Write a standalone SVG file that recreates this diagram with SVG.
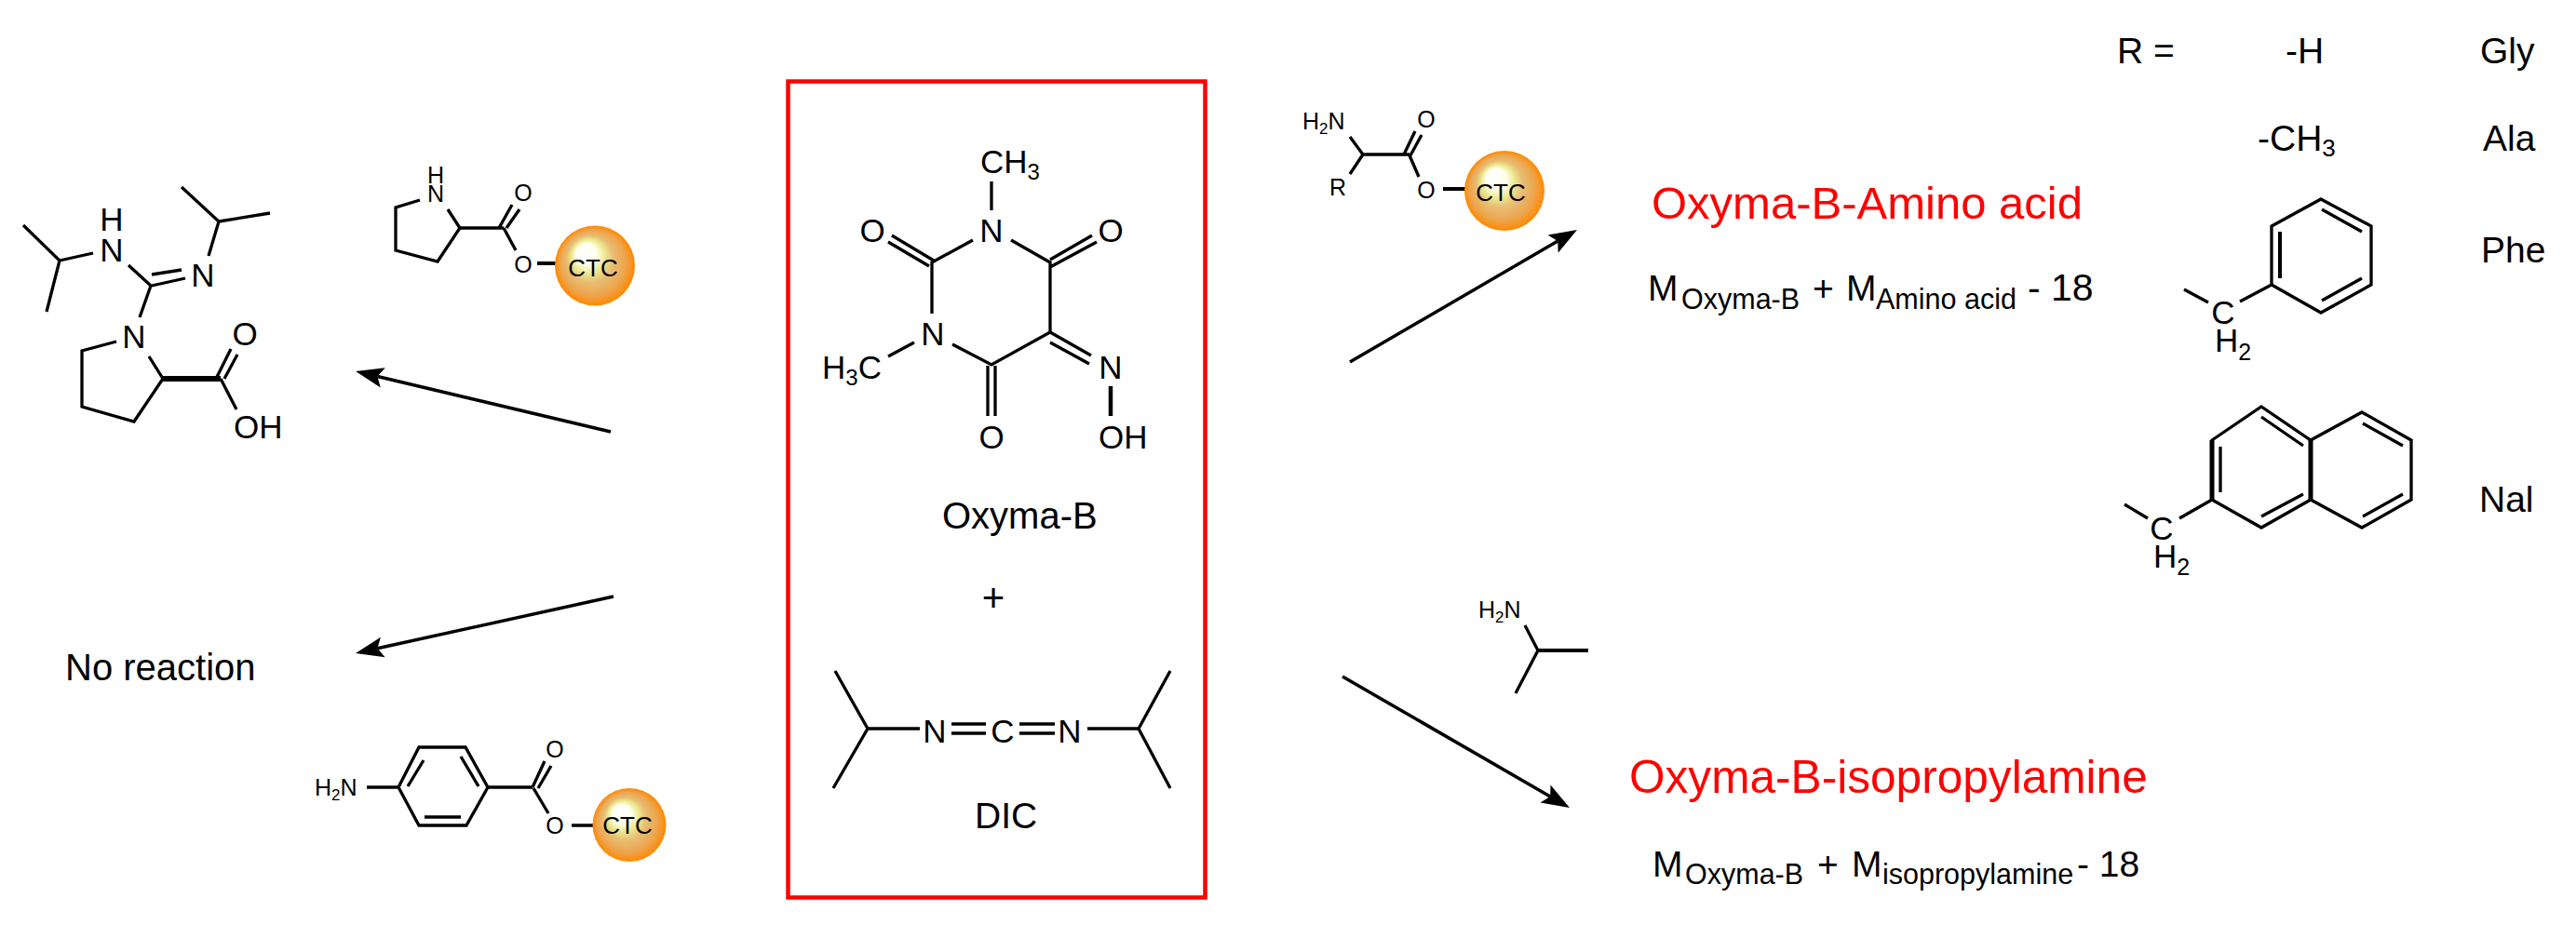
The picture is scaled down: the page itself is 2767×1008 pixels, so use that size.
<svg xmlns="http://www.w3.org/2000/svg" width="2767" height="1008" viewBox="0 0 2767 1008">
<defs>
<radialGradient id="beadFill" cx="0.5" cy="0.5" r="0.5" fx="0.36" fy="0.3">
<stop offset="0" stop-color="#ffffff"/>
<stop offset="0.25" stop-color="#fffff0"/>
<stop offset="0.42" stop-color="#ece98f"/>
<stop offset="0.58" stop-color="#e8bd74"/>
<stop offset="0.82" stop-color="#eda44c"/>
<stop offset="1" stop-color="#ff8800"/>
</radialGradient>
<marker id="head" markerUnits="userSpaceOnUse" viewBox="0 -12 32 24" refX="6" refY="0" markerWidth="32" markerHeight="24" orient="auto">
<path d="M0,-11 L30,0 L0,11 L6,0 Z" fill="#000"/>
</marker>
</defs>
<style>
text{font-family:"Liberation Sans",Arial,sans-serif;fill:#000}
.a{font-size:35px;text-anchor:middle}
.s{font-size:25px;text-anchor:middle}
.sl{font-size:25px}
.c{font-size:26px;text-anchor:middle}
.l{font-size:39px}
.m{font-size:30.5px}
.r{font-size:49px;fill:#ff0000}
.b{stroke:#000;stroke-width:3.3;fill:none;stroke-linejoin:miter;stroke-linecap:butt}
.t{stroke:#000;stroke-width:4.5;fill:none;stroke-linejoin:miter}
.bead{fill:url(#beadFill)}
.arrow{stroke:#000;stroke-width:3.5;fill:none;marker-end:url(#head)}
</style>
<rect width="2767" height="1008" fill="#fff"/>

<g id="product-guanidine">
<path class="b" d="M25,242L64,280L50,335M64,280L100,272M138,285L162,307L150,341M163,295L195,290M163,307L199,299M224,275L235,238L195,201M235,238L290,229M125,367L88,377V437L144,453L175,407L160,383M233,405L248,375M241,407L255,381M237,407L254,440"/>
<path class="b" d="M175,407H237" style="stroke-width:6"/>
<text class="a" x="120" y="248">H</text>
<text class="a" x="120" y="281">N</text>
<text class="a" x="218" y="308">N</text>
<text class="a" x="144" y="374">N</text>
<text class="a" x="263" y="371">O</text>
<text class="a" x="251" y="471" style="text-anchor:start">OH</text>
</g>

<g id="reagent-proline-ctc">
<path class="b" d="M451,215L425,223V269L470,281L494,245L481,225M494,245H541M536,245L550,220M544,245L558,225M541,245L554,269"/>
<path class="b" d="M577,283H598" style="stroke-width:4"/>
<text class="s" x="468" y="197">H</text>
<text class="s" x="468" y="217">N</text>
<text class="s" x="562" y="216">O</text>
<text class="s" x="562" y="293">O</text>
<circle class="bead" cx="639" cy="285.5" r="43"/>
<text class="c" x="637" y="297">CTC</text>
</g>

<g id="no-reaction">
<text class="l" x="70" y="731" style="font-size:40px">No reaction</text>
</g>

<g id="reagent-aminobenzoate-ctc">
<path class="b" d="M394,846H428M428,846L450,803H500L524,846L501,887H450ZM455,817L438,845M495,813L514,845M456,878H495M524,846H572M572,846L585,818M578,847L592,823M573,847L589,874M614,887H638"/>
<text class="sl" x="338" y="855">H<tspan font-size="17" dy="5">2</tspan><tspan dy="-5">N</tspan></text>
<text class="s" x="596" y="814">O</text>
<text class="s" x="596" y="896">O</text>
<circle class="bead" cx="676" cy="886.5" r="39.5"/>
<text class="c" x="674" y="896">CTC</text>
</g>

<g id="reagents-box">
<rect x="846.5" y="87.5" width="448" height="877" fill="none" stroke="#ff0000" stroke-width="4.5"/>
</g>

<g id="oxyma-b">
<path class="b" d="M1065,195V226M1045,258L1001,282V337M1086,258L1128,282V357L1065,392L1023,370M954,260L998,286M958,253L1003,280M1128,279L1173,253M1128,287L1178,260M1061,393V447M1069,393V447M1128,357L1172,382M1128,368L1170,391M954,383L982,368"/>
<path class="t" d="M1193,415V447"/>
<text class="a" x="1053" y="186" style="text-anchor:start">CH<tspan font-size="24" dy="7">3</tspan></text>
<text class="a" x="1065" y="260">N</text>
<text class="a" x="937" y="260">O</text>
<text class="a" x="1193" y="260">O</text>
<text class="a" x="1002" y="371">N</text>
<text class="a" x="883" y="407" style="text-anchor:start">H<tspan font-size="24" dy="7">3</tspan><tspan dy="-7">C</tspan></text>
<text class="a" x="1193" y="407">N</text>
<text class="a" x="1065" y="482">O</text>
<text class="a" x="1180" y="482" style="text-anchor:start">OH</text>
<text class="l" x="1012" y="568" style="font-size:40px">Oxyma-B</text>
</g>

<g id="plus">
<text class="l" x="1067" y="657" style="text-anchor:middle;font-size:42px">+</text>
</g>

<g id="dic">
<path class="b" d="M897,721L932,783L895,847M932,783H988M1168,783H1223L1257,721M1223,783L1257,847"/>
<path class="t" d="M1022,778H1059M1022,788H1059M1095,778H1133M1095,788H1133" style="stroke-width:3.5"/>
<text class="a" x="1004" y="798">N</text>
<text class="a" x="1077" y="798">C</text>
<text class="a" x="1149" y="798">N</text>
<text class="l" x="1047" y="890">DIC</text>
</g>

<g id="reagent-amino-acid-ctc">
<path class="b" d="M1450,147L1464,166L1450,187M1464,166H1514M1508,166L1520,141M1515,167L1527,145M1514,167L1524,190"/>
<path class="b" d="M1550,203H1574" style="stroke-width:4"/>
<text class="sl" x="1399" y="139">H<tspan font-size="17" dy="5">2</tspan><tspan dy="-5">N</tspan></text>
<text class="s" x="1437" y="210">R</text>
<text class="s" x="1532" y="137">O</text>
<text class="s" x="1532" y="213">O</text>
<circle class="bead" cx="1616" cy="205" r="43"/>
<text class="c" x="1612" y="216">CTC</text>
</g>

<g id="product-amino-acid">
<text class="r" x="1774" y="235">Oxyma-B-Amino acid</text>
<text class="l" x="1770" y="323">M</text>
<text class="m" x="1806" y="332">Oxyma-B</text>
<text class="l" x="1947" y="323">+</text>
<text class="l" x="1983" y="323">M</text>
<text class="m" x="2015" y="332">Amino acid</text>
<text class="l" x="2178" y="323" style="font-size:41px">- 18</text>
</g>

<g id="reagent-isopropylamine">
<path class="b" d="M1638,672L1652,699L1628,745"/>
<path class="b" d="M1652,699H1706" style="stroke-width:4"/>
<text class="sl" x="1588" y="664">H<tspan font-size="17" dy="5">2</tspan><tspan dy="-5">N</tspan></text>
</g>

<g id="product-isopropylamine">
<text class="r" x="1750" y="852" style="font-size:49.6px">Oxyma-B-isopropylamine</text>
<text class="l" x="1775" y="942">M</text>
<text class="m" x="1810" y="950">Oxyma-B</text>
<text class="l" x="1952" y="942">+</text>
<text class="l" x="1989" y="942">M</text>
<text class="m" x="2022" y="950">isopropylamine</text>
<text class="l" x="2231" y="942">- 18</text>
</g>

<g id="r-table">
<text class="l" x="2274" y="68">R =</text>
<text class="l" x="2455" y="68">-H</text>
<text class="l" x="2664" y="68">Gly</text>
<text class="l" x="2425" y="162">-CH<tspan font-size="26" dy="6">3</tspan></text>
<text class="l" x="2667" y="162">Ala</text>
<text class="l" x="2665" y="282">Phe</text>
<text class="l" x="2663" y="550">Nal</text>
</g>

<g id="r-phenylmethyl">
<path class="b" d="M2493,214L2547,243V306L2493,336L2440,306V243ZM2494,225L2537,249M2537,299L2494,323M2440,306L2406,324M2372,325L2346,311"/>
<path class="b" d="M2449,249V299" style="stroke-width:4"/>
<text class="a" x="2388" y="348">C</text>
<text class="a" x="2379" y="378" style="text-anchor:start">H<tspan font-size="25" dy="9">2</tspan></text>
</g>

<g id="r-naphthylmethyl">
<path class="b" d="M2376,537L2376,473L2429,437L2482,473L2537,443L2590,473V537L2537,567L2482,537L2429,567L2376,537ZM2429,448L2474,479M2474,531L2429,555M2385,480V529M2538,455L2581,479M2581,531L2538,555M2376,537L2341,557M2307,557L2282,542"/>
<path class="b" d="M2482,473V537M2376,473V537" style="stroke-width:5"/>
<text class="a" x="2322" y="580">C</text>
<text class="a" x="2313" y="610" style="text-anchor:start">H<tspan font-size="25" dy="8">2</tspan></text>
</g>

<g id="connectors">
<line class="arrow" x1="656" y1="464" x2="405.4" y2="404.5"/>
<line class="arrow" x1="659" y1="641" x2="405.4" y2="696.8"/>
<line class="arrow" x1="1450" y1="389" x2="1673.3" y2="259.1"/>
<line class="arrow" x1="1442" y1="727" x2="1665.2" y2="856"/>
</g>
</svg>
